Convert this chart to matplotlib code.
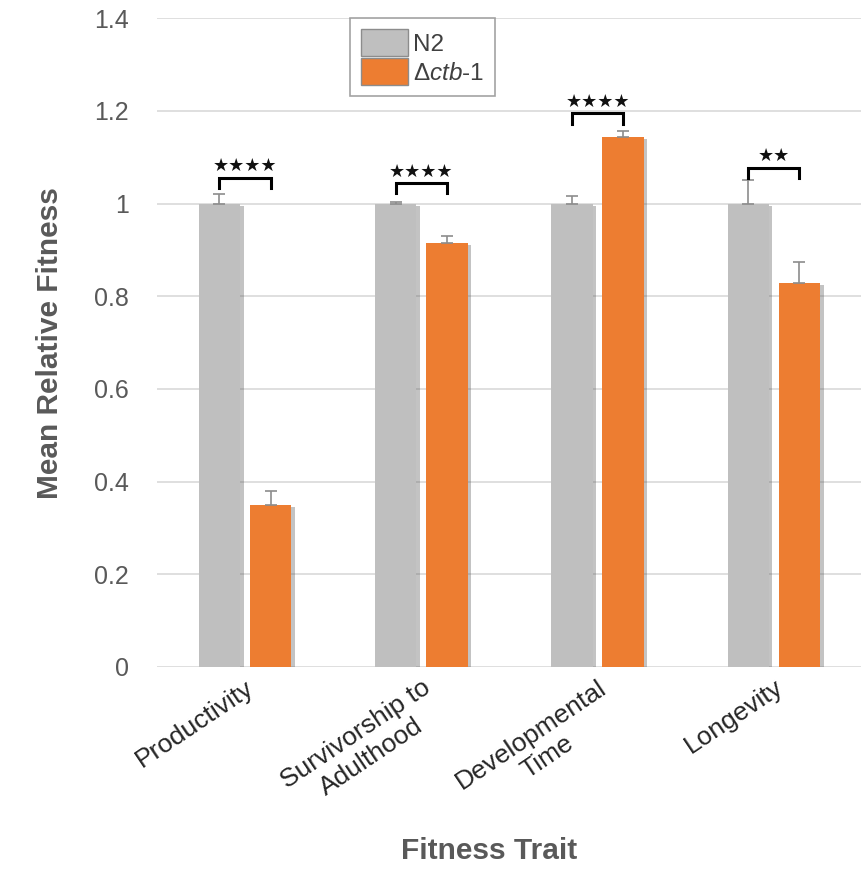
import matplotlib
matplotlib.use("Agg")
import matplotlib.pyplot as plt
import matplotlib.patheffects as pe
from matplotlib.patches import Patch
import numpy as np

plt.rcParams['font.family'] = ['Liberation Sans', 'DejaVu Sans']
plt.rcParams['mathtext.fontset'] = 'custom'
plt.rcParams['mathtext.rm'] = 'Liberation Sans'
plt.rcParams['mathtext.it'] = 'Liberation Sans:italic'

categories = ["Productivity", "Survivorship to\nAdulthood", "Developmental\nTime", "Longevity"]
n2_vals = [1.0, 1.0, 1.0, 1.0]
n2_err = [0.02, 0.004, 0.016, 0.05]
ctb_vals = [0.35, 0.915, 1.143, 0.828]
ctb_err = [0.03, 0.015, 0.013, 0.046]
sig_labels = ["★★★★", "★★★★", "★★★★", "★★"]
bracket_tops = [1.055, 1.044, 1.195, 1.078]

fig = plt.figure(figsize=(8.62, 8.73), dpi=100)
ax = fig.add_axes([0.182, 0.236, 0.818, 0.743])

x = np.arange(len(categories))
w = 0.235
off = 0.145
shadow = [pe.SimplePatchShadow(offset=(2.5, -1.5), shadow_rgbFace='#555555', alpha=0.35), pe.Normal()]

b1 = ax.bar(x - off, n2_vals, w, color='#BFBFBF', zorder=3,
            yerr=[np.zeros(4), n2_err], error_kw=dict(ecolor='#8c8c8c', capsize=4, elinewidth=1.2, capthick=1.2, zorder=4))
b2 = ax.bar(x + off, ctb_vals, w, color='#ED7D31', zorder=3,
            yerr=[np.zeros(4), ctb_err], error_kw=dict(ecolor='#8c8c8c', capsize=4, elinewidth=1.2, capthick=1.2, zorder=4))
for p in list(b1.patches) + list(b2.patches):
    p.set_path_effects(shadow)

leg_h = 0.022
for i in range(len(categories)):
    x0, x1 = x[i] - off, x[i] + off
    top = bracket_tops[i]
    ax.plot([x0, x0, x1, x1], [top - leg_h, top, top, top - leg_h], color='black', lw=2.2, zorder=5,
            solid_joinstyle='miter')
    ax.text(x[i], top + 0.006, sig_labels[i], ha='center', va='bottom', fontsize=13, color='#111111',
            zorder=5, family='DejaVu Sans')

ax.set_xlim(-0.5, 3.5)
ax.set_ylim(0, 1.4)
ax.set_yticks([0, 0.2, 0.4, 0.6, 0.8, 1.0, 1.2, 1.4])
ax.set_yticklabels(["0", "0.2", "0.4", "0.6", "0.8", "1", "1.2", "1.4"])
ax.yaxis.grid(True, color='#D9D9D9', lw=1.2, zorder=0)
ax.set_axisbelow(True)
for s in ax.spines.values():
    s.set_visible(False)
ax.tick_params(axis='y', length=0, labelsize=18, labelcolor='#595959', pad=20)
ax.tick_params(axis='x', length=0, labelsize=19, labelcolor='#262626', pad=6)
ax.set_xticks(x)
ax.set_xticklabels(categories, rotation=34, ha='right', rotation_mode='anchor', multialignment='center')

ax.set_ylabel("Mean Relative Fitness", fontsize=21.5, fontweight='bold', color='#595959', labelpad=22)
fig.text(0.568, 0.025, "Fitness Trait", fontsize=21.5, fontweight='bold', color='#595959', ha='center', va='center')

handles = [Patch(facecolor='#BFBFBF', edgecolor='#8c8c8c', lw=1),
           Patch(facecolor='#ED7D31', edgecolor='#8c8c8c', lw=1)]
labels = ["N2", r"$\Delta\mathit{ctb}$-$\mathit{1}$"]
leg = ax.legend(handles, labels, loc='upper left', bbox_to_anchor=(0.274, 1.0), borderaxespad=0,
                fancybox=False, edgecolor='#8c8c8c', fontsize=17.5, handlelength=1.95, handleheight=1.3,
                labelspacing=0.1, handletextpad=0.2, borderpad=0.45)
leg.get_frame().set_linewidth(1.2)
for t in leg.get_texts():
    t.set_color('#404040')

fig.savefig("out.png", dpi=100)
